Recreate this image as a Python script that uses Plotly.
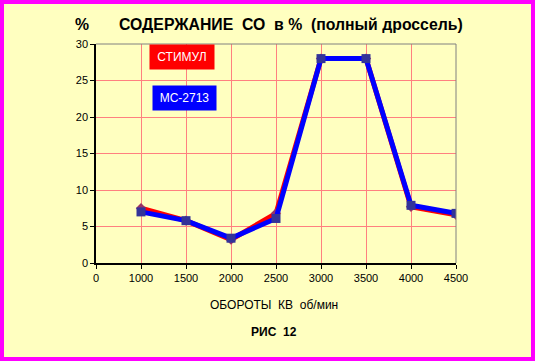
import plotly.graph_objects as go

categories = ["0", "1000", "1500", "2000", "2500", "3000", "3500", "4000", "4500"]
rpm = ["1000", "1500", "2000", "2500", "3000", "3500", "4000", "4500"]
stimul = [7.5, 5.8, 3.2, 6.8, 28.0, 28.0, 7.7, 6.6]
mc2713 = [7.0, 5.8, 3.4, 6.1, 28.0, 28.0, 7.9, 6.8]
y_ticks = [0, 5, 10, 15, 20, 25, 30]

W, H = 535, 361
L, R, T, B = 96, 79, 44, 98
pw, ph = W - L - R, H - T - B
FONT = "Liberation Sans, Arial, sans-serif"
BG = "#FFFFC0"

fig = go.Figure()
fig.add_trace(go.Scatter(x=rpm, y=stimul, mode="lines+markers", name="СТИМУЛ",
                         line=dict(color="#FF0000", width=5),
                         marker=dict(symbol="diamond", size=8, color="#993366")))
fig.add_trace(go.Scatter(x=rpm, y=mc2713, mode="lines+markers", name="МС-2713",
                         line=dict(color="#0000FF", width=5),
                         marker=dict(symbol="square", size=9, color="#333399")))

def px(xp):
    return (xp - L) / pw

def py(yp):
    return (H - B - yp) / ph

shapes = [
    dict(type="line", xref="paper", yref="paper", x0=0, x1=1, y0=1, y1=1,
         line=dict(color="#808080", width=1)),
    dict(type="line", xref="paper", yref="paper", x0=1, x1=1, y0=0, y1=1,
         line=dict(color="#808080", width=1)),
    dict(type="rect", xref="paper", yref="paper", x0=px(2), x1=px(W - 2),
         y0=py(H - 2), y1=py(2), line=dict(color="#FF00FF", width=4),
         fillcolor="rgba(0,0,0,0)", layer="above"),
]

def ann(text, x, y, size, color="black", **kw):
    return dict(text=text, x=px(x), y=py(y), xref="paper", yref="paper",
                xanchor="center", yanchor="middle", showarrow=False,
                font=dict(size=size, color=color, family=FONT), **kw)

annotations = [
    ann("<b>%</b>", 82, 24, 15.8),
    ann("<b>СОДЕРЖАНИЕ  СО  в %  (полный дроссель)</b>", 291, 24, 15.8),
    ann("СТИМУЛ", 182, 57, 12, "white", bgcolor="#FF0000", borderpad=0,
        width=64, height=24),
    ann("МС-2713", 184.5, 98, 12, "white", bgcolor="#0000FF", borderpad=0,
        width=63, height=24),
    ann("ОБОРОТЫ  КВ  об/мин", 274, 305, 12),
    ann("<b>РИС  12</b>", 274, 332, 12),
]

fig.update_layout(
    width=W, height=H,
    margin=dict(l=L, r=R, t=T, b=B, pad=0),
    paper_bgcolor=BG, plot_bgcolor=BG,
    showlegend=False,
    font=dict(family=FONT, size=11, color="black"),
    shapes=shapes, annotations=annotations,
    xaxis=dict(type="category", categoryorder="array", categoryarray=categories,
               tickvals=categories, ticktext=categories, range=[0, len(categories) - 1],
               showgrid=True, gridcolor="#FF8080", gridwidth=1,
               showline=True, linecolor="black", linewidth=1.5,
               ticks="outside", ticklen=4, tickcolor="black", zeroline=False,
               tickfont=dict(size=11, family=FONT)),
    yaxis=dict(range=[0, 30], tickvals=y_ticks, ticktext=[str(v) for v in y_ticks],
               showgrid=True, gridcolor="#FF8080", gridwidth=1,
               showline=True, linecolor="black", linewidth=1.5,
               ticks="outside", ticklen=4, tickcolor="black", zeroline=False,
               tickfont=dict(size=11, family=FONT)),
)

fig.write_html("out.html", config={"displayModeBar": False},
               post_script="document.body.style.margin='0';document.body.style.overflow='hidden';")
